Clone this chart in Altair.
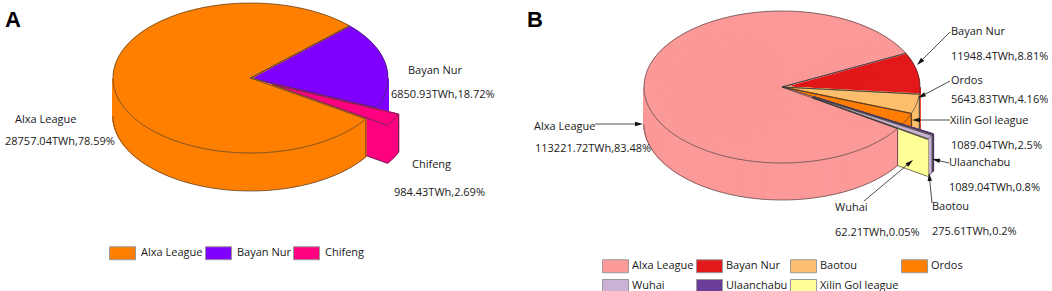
import altair as alt
import pandas as pd

FONT = "Open Sans"
W, H = 1052, 291
EDGE = "#3a3a3a"

# ---------------- data: panel A ----------------
a_regions = ["Bayan Nur", "Chifeng", "Alxa League"]
a_twh = [6850.93, 984.43, 28757.04]
a_pct = [18.72, 2.69, 78.59]
a_fill_key = ["Bayan Nur", "Chifeng", "Alxa League"]
a_legend = ["Alxa League", "Bayan Nur", "Chifeng"]
a_colors = ["#ff8000", "#8000ff", "#ff0080"]

# ---------------- data: panel B ----------------
b_regions = ["Bayan Nur", "Ordos", "Xilin Gol league", "Baotou", "Ulaanchabu", "Wuhai", "Alxa League"]
b_twh = [11948.4, 5643.83, 1089.04, 275.61, 1089.04, 62.21, 113221.72]
b_pct = [8.81, 4.16, 2.5, 0.2, 0.8, 0.05, 83.48]
b_fill_key = ["Bayan Nur", "Baotou", "Ordos", "Ulaanchabu", "Wuhai", "Xilin Gol league", "Alxa League"]
b_legend = ["Alxa League", "Bayan Nur", "Baotou", "Ordos", "Wuhai", "Ulaanchabu", "Xilin Gol league"]
b_colors = ["#fb9a99", "#e31a1c", "#fdbf6f", "#ff7f00", "#cab2d6", "#6a3d9a", "#ffff99"]

# ---------------- layout (positions / styling only) ----------------
a_pull = [0, 0.18, 0]
b_pull = [0, 0, 0, 0.26, 0.26, 0.26, 0]
PIE_A = dict(cx=250.5, cy=78, rx=137.5, ry=75, depth=38, start=46)
PIE_B = dict(cx=782, cy=87, rx=138, ry=76, depth=37, start=63.7)
a_label_pos = {"Bayan Nur": ((408, 71), (391, 95)),
               "Chifeng": ((412, 165), (394, 193)),
               "Alxa League": ((15, 120), (5, 142))}
b_label_pos = {"Alxa League": ((534, 127), (535, 149)),
               "Bayan Nur": ((951, 32), (951, 57)),
               "Ordos": ((951, 81), (951, 100)),
               "Xilin Gol league": ((950, 121), (951, 146)),
               "Ulaanchabu": ((949, 163), (949, 188)),
               "Baotou": ((932, 207), (932, 232)),
               "Wuhai": ((835, 208), (835, 233))}
b_leaders = {"Alxa League": (595, 124, 643, 124),
             "Bayan Nur": (950, 32, 917, 65),
             "Ordos": (950, 81, 918, 98),
             "Xilin Gol league": (950, 120, 912, 120),
             "Ulaanchabu": (949, 163, 932, 159),
             "Baotou": (932, 203, 929, 173),
             "Wuhai": (864, 201, 913, 160)}

XS = alt.Scale(domain=[0, W], range=[0, W], nice=False, zero=False)
YS = alt.Scale(domain=[0, H], range=[0, H], nice=False, zero=False)


def X(f):
    return alt.X(f, type="quantitative", scale=XS, axis=None)


def Y(f):
    return alt.Y(f, type="quantitative", scale=YS, axis=None)


def slice_frame(regions, twh, pct, keys, pull):
    face = [p > 0 and (i + 1 < len(pull) and pull[i + 1] == 0) for i, p in enumerate(pull)]
    return pd.DataFrame({"order": list(range(len(regions))), "region": regions, "twh": twh,
                         "pct": pct, "key": keys, "pull": pull, "face": face})


def pie_layers(df, P, dom, rng):
    rx, ry, d = P["rx"], P["ry"], P["depth"]
    last = len(df) - 1
    stroke = alt.Stroke("key:N", scale=alt.Scale(domain=dom, range=rng), legend=None)
    base = (alt.Chart(df)
            .transform_window(cum="sum(pct)", sort=[alt.SortField("order")])
            .transform_joinaggregate(total="sum(pct)")
            .transform_calculate(
                a0=f"({P['start']} + 360*(datum.cum - datum.pct)/datum.total)*PI/180",
                a1=f"({P['start']} + 360*datum.cum/datum.total)*PI/180")
            .transform_calculate(
                ccx=f"{P['cx']} + datum.pull*{rx}*sin((datum.a0 + datum.a1)/2)",
                ccy=f"{P['cy']} - datum.pull*{ry}*cos((datum.a0 + datum.a1)/2)",
                n="max(1, ceil((datum.a1 - datum.a0)*180/PI*4))")
            .transform_calculate(
                e0x=f"datum.ccx + {rx}*sin(datum.a0)", e0y=f"datum.ccy - {ry}*cos(datum.a0)",
                e1x=f"datum.ccx + {rx}*sin(datum.a1)", e1y=f"datum.ccy - {ry}*cos(datum.a1)"))
    pts = (base.transform_calculate(ks="sequence(0, datum.n + 1)")
           .transform_flatten(["ks"], as_=["k"])
           .transform_calculate(th="datum.a0 + (datum.a1 - datum.a0)*datum.k/datum.n")
           .transform_calculate(px=f"datum.ccx + {rx}*sin(datum.th)",
                                py=f"datum.ccy - {ry}*cos(datum.th)")
           .transform_calculate(pyb=f"datum.py + {d}"))
    front = pts.transform_filter("cos(datum.th) <= 0.0001")

    def side_group(cond):
        f = front.transform_filter(cond)
        s = f.mark_rule(strokeWidth=1.6).encode(x=X("px"), y=Y("py"), y2="pyb:Q", stroke=stroke)
        b = f.mark_line(stroke=EDGE, strokeWidth=0.7).encode(
            x=X("px"), y=Y("pyb"), detail="region:N", order="k:Q")
        e = (f.transform_filter(
            "datum.k == 0 || datum.k == datum.n || abs(sin(datum.th)) > 0.999997")
            .mark_rule(stroke=EDGE, strokeWidth=0.7).encode(x=X("px"), y=Y("py"), y2="pyb:Q"))
        return [s, b, e]

    faces = (base.transform_filter("datum.face")
             .transform_calculate(ts="sequence(0, 301)")
             .transform_flatten(["ts"], as_=["t"])
             .transform_calculate(fx=f"datum.ccx + datum.t/300*{rx}*sin(datum.a1)",
                                  fy=f"datum.ccy - datum.t/300*{ry}*cos(datum.a1)")
             .transform_calculate(fyb=f"datum.fy + {d}"))
    face = faces.mark_rule(strokeWidth=1.6).encode(x=X("fx"), y=Y("fy"), y2="fyb:Q", stroke=stroke)
    face_edge = (base.transform_filter("datum.face")
                 .transform_calculate(b0=f"datum.ccy + {d}", b1=f"datum.e1y + {d}")
                 .mark_rule(stroke=EDGE, strokeWidth=0.7)
                 .encode(x=X("ccx"), y=Y("b0"), x2="e1x:Q", y2="b1:Q"))
    top = pts.mark_rule(strokeWidth=1.6).encode(x=X("px"), y=Y("py"), x2="ccx:Q", y2="ccy:Q",
                                               stroke=stroke)
    rim = pts.mark_line(stroke=EDGE, strokeWidth=0.7).encode(
        x=X("px"), y=Y("py"), detail="region:N", order="k:Q")
    r0 = base.mark_rule(stroke=EDGE, strokeWidth=0.7).encode(x=X("ccx"), y=Y("ccy"), x2="e0x:Q", y2="e0y:Q")
    r1 = base.mark_rule(stroke=EDGE, strokeWidth=0.7).encode(x=X("ccx"), y=Y("ccy"), x2="e1x:Q", y2="e1y:Q")
    return (side_group(f"datum.order < {last}") + [face, face_edge]
            + side_group(f"datum.order == {last}") + [top, rim, r0, r1])


# 26 x 13 swatch drawn from a 13 px symbol box (path spans -1..3 horizontally)
RECT = "M-1,-1H3V1H-1Z"


def legend_layer(names, colors, lx, ly, cols, offset, colpad, rowpad):
    return alt.Chart(pd.DataFrame({"name": names})).mark_square(opacity=0).encode(
        fill=alt.Fill("name:N", scale=alt.Scale(domain=names, range=colors),
                      legend=alt.Legend(title=None, orient="none", legendX=lx, legendY=ly,
                                        direction="horizontal", columns=cols, symbolType=RECT,
                                        symbolSize=169, symbolStrokeColor="#9a9a9a",
                                        symbolStrokeWidth=1, symbolOpacity=1, labelFont=FONT,
                                        labelFontSize=11, labelColor="#1a1a1a", labelOffset=offset,
                                        columnPadding=colpad, rowPadding=rowpad, gridAlign="each",
                                        labelLimit=300)))


dfA = slice_frame(a_regions, a_twh, a_pct, a_fill_key, a_pull)
dfB = slice_frame(b_regions, b_twh, b_pct, b_fill_key, b_pull)

rows = []
for regions, twh, pct, pos in [(a_regions, a_twh, a_pct, a_label_pos), (b_regions, b_twh, b_pct, b_label_pos)]:
    for r, v, p in zip(regions, twh, pct):
        (nx, ny), (vx, vy) = pos[r]
        rows.append({"text": r, "x": nx, "y": ny})
        rows.append({"text": f"{v}TWh,{p}%", "x": vx, "y": vy})
labels = alt.Chart(pd.DataFrame(rows)).mark_text(
    align="left", baseline="middle", font=FONT, fontSize=11, color="#1a1a1a").encode(
    x=X("x"), y=Y("y"), text="text:N")

panel_df = pd.DataFrame({"text": ["A", "B"], "x": [5, 527], "y": [27, 27]})
panels = alt.Chart(panel_df).mark_text(
    align="left", baseline="alphabetic", font="Liberation Sans", fontWeight="bold",
    fontSize=22, color="black").encode(x=X("x"), y=Y("y"), text="text:N")

ldf = pd.DataFrame([{"region": k, "x0": v[0], "y0": v[1], "x1": v[2], "y1": v[3]}
                    for k, v in b_leaders.items()])
lead = (alt.Chart(ldf)
        .transform_calculate(L="sqrt(pow(datum.x1 - datum.x0, 2) + pow(datum.y1 - datum.y0, 2))")
        .transform_calculate(hx="datum.x1 - 4*(datum.x1 - datum.x0)/datum.L",
                             hy="datum.y1 - 4*(datum.y1 - datum.y0)/datum.L",
                             ang="(atan2(datum.x1 - datum.x0, datum.y0 - datum.y1)*180/PI + 360) % 360"))
lead_lines = lead.mark_rule(stroke="#222", strokeWidth=0.8).encode(
    x=X("x0"), y=Y("y0"), x2="hx:Q", y2="hy:Q")
lead_heads = lead.mark_point(shape="M0,-1L0.55,1L-0.55,1Z", filled=True, size=64,
                             color="#111", opacity=1).encode(
    x=X("hx"), y=Y("hy"), angle=alt.Angle("ang:Q", scale=None))

layers = (pie_layers(dfA, PIE_A, a_legend, a_colors)
          + pie_layers(dfB, PIE_B, b_legend, b_colors)
          + [labels, panels, lead_lines, lead_heads,
             legend_layer(a_legend, a_colors, 109, 246, 3, 18, 0, 0),
             legend_layer(b_legend, b_colors, 602, 259, 4, 16, 0, 2)])

chart = (alt.layer(*layers)
         .resolve_scale(fill="independent", stroke="independent")
         .properties(width=W, height=H, padding=0, autosize="none", background="white")
         .configure_view(stroke=None))

chart.save("out.html", embed_options={"renderer": "svg", "actions": False})
